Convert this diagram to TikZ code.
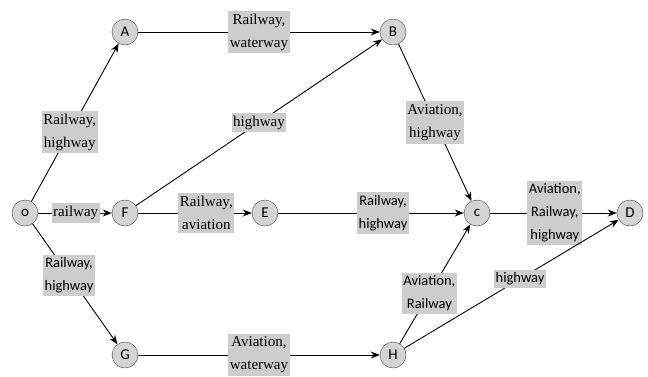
\documentclass[tikz,border=0pt]{standalone}
\usepackage{fontspec}
\setmainfont{Liberation Serif}
\newfontfamily\timesfont{Liberation Serif}
\newfontfamily\calibri{Carlito}
\usepackage{tikz}
\usetikzlibrary{positioning, arrows.meta, calc}
\usepackage{xcolor}
\definecolor{city-gray}{RGB}{212,212,212}
\definecolor{mode-gray}{RGB}{205,205,205}

\tikzset{
	city/.style={circle, draw=black!75, fill=city-gray, minimum size=26pt, inner sep=0pt, font=\calibri\fontsize{15}{15}\selectfont},
	serifmode/.style={fill=mode-gray, inner xsep=1.5pt, inner ysep=3pt, align=center, font=\timesfont\fontsize{15}{23}\selectfont},
	sansmode/.style={fill=mode-gray, inner xsep=1.5pt, inner ysep=3pt, align=center, font=\calibri\fontsize{14.5}{23}\selectfont},
	route/.style={-{Stealth[length=9pt, width=7pt]}, line width=0.9pt}
}

\begin{document}
\begin{tikzpicture}[x=1pt, y=-1pt]
						\useasboundingbox (0,0) rectangle (648,376);
						\node[city] (o) at (25,213) {o};
						\node[city] (A) at (125,32) {A};
						\node[city] (B) at (393,32) {B};
						\node[city] (F) at (125,213) {F};
						\node[city] (E) at (265,213) {E};
						\node[city] (c) at (477,213) {c};
						\node[city] (D) at (630,213) {D};
						\node[city] (G) at (125,355) {G};
						\node[city] (H) at (393,355) {H};
						\draw[route] (o) -- node[serifmode, pos=0.44] {Railway,\\highway} (A);
						\draw[route] (o) -- node[serifmode, pos=0.51] {railway} (F);
						\draw[route] (o) -- node[sansmode, pos=0.43] {Railway,\\highway} (G);
						\draw[route] (A) -- node[serifmode, pos=0.5] {Railway,\\waterway} (B);
						\draw[route] (F) -- node[serifmode, pos=0.5] {highway} (B);
						\draw[route] (F) -- node[serifmode, pos=0.6] {Railway,\\aviation} (E);
						\draw[route] (E) -- node[sansmode, pos=0.565] {Railway,\\highway} (c);
						\draw[route] (B) -- node[serifmode, pos=0.5] {Aviation,\\highway} (c);
						\draw[route] (c) -- node[sansmode, pos=0.51] {Aviation,\\Railway,\\highway} (D);
						\draw[route] (G) -- node[serifmode, pos=0.5] {Aviation,\\waterway} (H);
						\draw[route] (H) -- node[sansmode, pos=0.42] {Aviation,\\Railway} (c);
						\draw[route] (H) -- node[sansmode, pos=0.54] {highway} (D);
					\end{tikzpicture}
\end{document}
